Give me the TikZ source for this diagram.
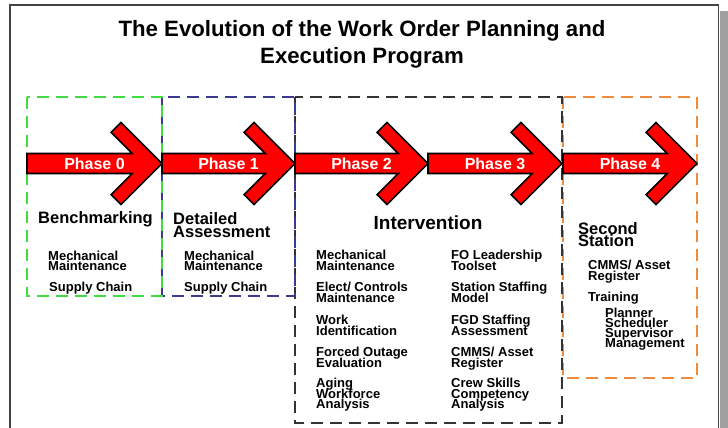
\documentclass[tikz,border=0pt]{standalone}
\usepackage{fontspec}
\setmainfont{Liberation Sans}
\definecolor{phred}{HTML}{FF0000}
\definecolor{greenc}{HTML}{3FDD3F}
\definecolor{navyc}{HTML}{3A3A8E}
\definecolor{darkc}{HTML}{333333}
\definecolor{orangec}{HTML}{F08A3C}
\definecolor{framec}{HTML}{444444}
\definecolor{shadowc}{HTML}{A0A0A0}
\newcommand\tightlines{\lineskiplimit=-30pt\lineskip=0pt}
% one red phase arrow: name, start x, tip x, label
\newcommand\phasearrow[4]{%
  \draw[arrowbody] (#2,153.5) -- ({#3-29.8},153.5) -- ({#3-50.9},132.4) -- ({#3-41},122.5)
    -- (#3,163.5) -- ({#3-41},204.5) -- ({#3-50.9},194.6) -- ({#3-29.8},173.5)
    -- (#2,173.5) -- cycle;
  \node[phaselabel] (#1) at ({(#2+#3)/2},163.5) {#4};
}
\begin{document}
\begin{tikzpicture}[x=1pt,y=-1pt,
  box/.style={line width=2pt, dash pattern=on 12pt off 7pt},
  arrowbody/.style={fill=phred, draw=black, line width=1.6pt, line join=miter},
  phaselabel/.style={text=white, inner sep=0pt, font=\fontsize{16}{16}\selectfont\bfseries},
  heading/.style={anchor=north west, align=left, inner sep=0pt,
    font=\fontsize{16.5}{13}\selectfont\bfseries\tightlines},
  item/.style={anchor=north west, align=left, inner sep=0pt,
    font=\fontsize{13}{10.5}\selectfont\bfseries\tightlines},
  subitem/.style={item, font=\fontsize{13}{10}\selectfont\bfseries\tightlines},
  titletext/.style={anchor=north, align=center, inner sep=0pt,
    font=\fontsize{22.2}{27}\selectfont\bfseries\tightlines}]
\useasboundingbox (0,0) rectangle (728,428);
\fill[white] (0,0) rectangle (728,428);

% slide frame and its shadow
\fill[shadowc] (720,11) rectangle (728,428);
\draw[framec, line width=1.3pt] (10,428) -- (10,5) -- (718.5,5) -- (718.5,428);

% title
\node[titletext] (title) at (362,20.5) {The Evolution of the Work Order Planning and\\Execution Program};

% dashed phase regions
\draw[box, draw=orangec] (563,97) rectangle (697,378);
\draw[box, draw=darkc] (295,97) rectangle (562,423);
\draw[box, draw=navyc] (162,97) rectangle (295,296);
\draw[box, draw=greenc] (27,97) rectangle (162,296);

% phase arrows
\phasearrow{p0}{27}{162}{Phase 0}
\phasearrow{p1}{162}{295}{Phase 1}
\phasearrow{p2}{295}{428}{Phase 2}
\phasearrow{p3}{428}{562}{Phase 3}
\phasearrow{p4}{563}{697}{Phase 4}

% Phase 0
\node[heading] (bench) at (38,211) {Benchmarking};
\node[item] (b1) at (48,250.5) {Mechanical\\Maintenance};
\node[item] (b2) at (49,282) {Supply Chain};

% Phase 1
\node[heading] (detail) at (173,212) {Detailed\\Assessment};
\node[item] (d1) at (184,250.5) {Mechanical\\Maintenance};
\node[item] (d2) at (184,282) {Supply Chain};

% Phases 2 and 3
\node[anchor=north, inner sep=0pt, font=\fontsize{19}{19}\selectfont\bfseries] (interv) at (428,215.5) {Intervention};
\node[item] (i1) at (316,250) {Mechanical\\Maintenance};
\node[item] (i2) at (316,282) {Elect/ Controls\\Maintenance};
\node[item] (i3) at (316,315) {Work\\Identification};
\node[item] (i4) at (316,347) {Forced Outage\\Evaluation};
\node[item] (i5) at (316,378) {Aging\\Workforce\\Analysis};
\node[item] (j1) at (451,250) {FO Leadership\\Toolset};
\node[item] (j2) at (451,282) {Station Staffing\\Model};
\node[item] (j3) at (451,315) {FGD Staffing\\Assessment};
\node[item] (j4) at (451,347) {CMMS/ Asset\\Register};
\node[item] (j5) at (451,378) {Crew Skills\\Competency\\Analysis};

% Phase 4
\node[heading, font=\fontsize{16.5}{12.5}\selectfont\bfseries\tightlines] (second) at (578,222) {Second\\Station};
\node[item] (s1) at (588,260) {CMMS/ Asset\\Register};
\node[item] (s2) at (588,292) {Training};
\node[subitem] (s3) at (605,308) {Planner\\Scheduler\\Supervisor\\Management};
\end{tikzpicture}
\end{document}
